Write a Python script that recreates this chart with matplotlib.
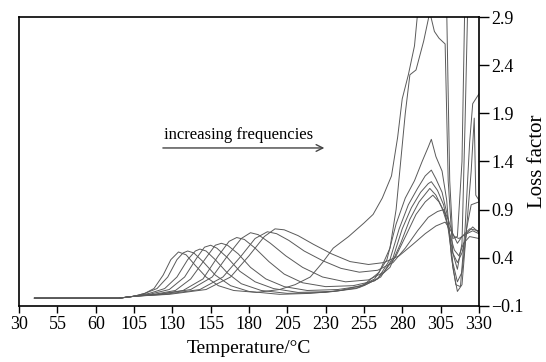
import numpy as np
import matplotlib.pyplot as plt

plt.rcParams['font.family'] = ['Liberation Serif', 'DejaVu Serif']

# temperature (°C) / loss factor pairs, one list per frequency
curve_1 = [(40, -0.02), (95, -0.02), (105, 0.0), (112, 0.03), (118, 0.08), (124, 0.22), (129, 0.38),
           (134, 0.46), (139, 0.43), (145, 0.32), (152, 0.2), (160, 0.11), (170, 0.06), (185, 0.04),
           (200, 0.07), (210, 0.12), (220, 0.2), (228, 0.35), (235, 0.5), (245, 0.62), (255, 0.76),
           (261, 0.85), (267, 1.02), (273, 1.25), (277, 1.65), (280, 2.05), (284, 2.3), (288, 2.6),
           (291, 3.1), (306, 3.2), (309, 3.0), (311, 1.2), (313, 0.6), (316, 0.62), (319, 1.4),
           (321, 3.2), (330, 3.2)]
curve_2 = [(40, -0.02), (95, -0.02), (105, 0.0), (112, 0.03), (120, 0.08), (127, 0.2), (133, 0.38),
           (137, 0.45), (140, 0.47), (144, 0.45), (150, 0.36), (158, 0.22), (168, 0.11), (180, 0.05),
           (200, 0.02), (220, 0.03), (240, 0.06), (255, 0.12), (265, 0.25), (272, 0.5), (276, 0.9),
           (279, 1.4), (282, 1.9), (285, 2.3), (289, 2.35), (294, 2.65), (298, 2.95), (301, 2.75),
           (304, 2.68), (308, 2.62), (310, 1.2), (313, 0.45), (316, 0.28), (319, 0.55), (321, 1.8),
           (323, 3.2), (330, 3.2)]
curve_3 = [(40, -0.02), (95, -0.02), (105, 0.0), (115, 0.03), (125, 0.08), (133, 0.2), (140, 0.38),
           (145, 0.47), (148, 0.49), (152, 0.47), (158, 0.38), (166, 0.24), (175, 0.13), (188, 0.06),
           (205, 0.03), (230, 0.04), (250, 0.08), (262, 0.18), (270, 0.38), (276, 0.75), (282, 1.02),
           (288, 1.2), (293, 1.4), (297, 1.55), (299, 1.63), (302, 1.45), (306, 1.3), (309, 1.0),
           (312, 0.42), (315, 0.12), (318, 0.1), (321, 0.7), (324, 1.6), (326, 2.0), (330, 2.1)]
curve_4 = [(40, -0.02), (95, -0.02), (105, 0.0), (115, 0.02), (128, 0.07), (138, 0.2), (146, 0.4),
           (151, 0.51), (155, 0.53), (159, 0.5), (166, 0.4), (174, 0.26), (184, 0.15), (196, 0.08),
           (212, 0.04), (235, 0.05), (252, 0.09), (264, 0.18), (272, 0.38), (278, 0.7), (284, 0.95),
           (290, 1.12), (295, 1.25), (299, 1.31), (302, 1.22), (306, 1.08), (310, 0.8), (313, 0.3),
           (316, 0.05), (319, 0.12), (322, 0.7), (325, 1.3), (327, 1.85), (328, 1.05), (330, 1.0)]
curve_5 = [(40, -0.02), (95, -0.02), (105, 0.0), (118, 0.02), (132, 0.06), (142, 0.18), (152, 0.4),
           (158, 0.53), (162, 0.55), (166, 0.53), (173, 0.44), (181, 0.3), (191, 0.18), (203, 0.1),
           (218, 0.06), (238, 0.07), (255, 0.11), (266, 0.2), (274, 0.4), (280, 0.7), (286, 0.92),
           (292, 1.08), (297, 1.17), (299, 1.19), (303, 1.1), (307, 0.95), (310, 0.7), (313, 0.35),
           (316, 0.15), (319, 0.25), (322, 0.7), (325, 0.95), (330, 0.98)]
curve_6 = [(40, -0.02), (95, -0.02), (105, 0.0), (120, 0.02), (137, 0.06), (150, 0.18), (160, 0.42),
           (167, 0.57), (172, 0.61), (177, 0.59), (184, 0.5), (193, 0.36), (203, 0.23), (215, 0.14),
           (230, 0.1), (248, 0.11), (262, 0.16), (272, 0.3), (279, 0.55), (285, 0.8), (291, 0.98),
           (296, 1.08), (298, 1.12), (302, 1.05), (306, 0.92), (310, 0.72), (313, 0.45), (316, 0.35),
           (319, 0.45), (322, 0.65), (326, 0.72), (330, 0.66)]
curve_7 = [(40, -0.02), (95, -0.02), (105, 0.0), (122, 0.02), (142, 0.07), (156, 0.2), (166, 0.42),
           (175, 0.6), (181, 0.66), (186, 0.64), (194, 0.55), (204, 0.42), (215, 0.3), (228, 0.2),
           (243, 0.15), (258, 0.17), (268, 0.25), (276, 0.42), (283, 0.65), (289, 0.85), (295, 0.98),
           (300, 1.05), (304, 0.98), (308, 0.85), (311, 0.65), (314, 0.48), (317, 0.42), (320, 0.55),
           (324, 0.62), (330, 0.6)]
curve_8 = [(40, -0.02), (95, -0.02), (105, 0.0), (125, 0.02), (148, 0.07), (163, 0.2), (175, 0.42),
           (184, 0.6), (192, 0.67), (198, 0.65), (206, 0.58), (216, 0.47), (228, 0.37), (240, 0.29),
           (252, 0.25), (264, 0.27), (274, 0.35), (282, 0.5), (290, 0.68), (297, 0.82), (303, 0.88),
           (307, 0.9), (310, 0.8), (313, 0.65), (316, 0.55), (319, 0.62), (324, 0.7), (330, 0.68)]
curve_9 = [(40, -0.02), (95, -0.02), (105, 0.0), (128, 0.02), (152, 0.07), (168, 0.2), (180, 0.42),
           (190, 0.62), (197, 0.7), (203, 0.69), (212, 0.63), (222, 0.54), (234, 0.44), (246, 0.36),
           (258, 0.33), (268, 0.35), (278, 0.42), (287, 0.54), (295, 0.65), (302, 0.73), (308, 0.77),
           (311, 0.7), (314, 0.62), (317, 0.6), (321, 0.64), (326, 0.68), (330, 0.65)]
curves = [curve_1, curve_2, curve_3, curve_4, curve_5, curve_6, curve_7, curve_8, curve_9]

x_ticks = [30, 55, 80, 105, 130, 155, 180, 205, 230, 255, 280, 305, 330]
x_labels = ['30', '55', '60', '105', '130', '155', '180', '205', '230', '255', '280', '305', '330']
y_ticks = [-0.1, 0.4, 0.9, 1.4, 1.9, 2.4, 2.9]

fig = plt.figure(figsize=(5.46, 3.62), dpi=100)
ax = fig.add_axes([0.035, 0.155, 0.842, 0.798])

for c in curves:
    t, v = zip(*c)
    ax.plot(t, v, color='#5a5a5a', lw=0.7)

ax.set_xlim(30, 330)
ax.set_ylim(-0.1, 2.9)
ax.set_xticks(x_ticks)
ax.set_xticklabels(x_labels)
ax.set_yticks(y_ticks)
ax.yaxis.tick_right()
ax.yaxis.set_label_position('right')
ax.tick_params(axis='x', direction='out', length=5, width=1, labelsize=13, pad=2)
ax.tick_params(axis='y', direction='out', length=7, width=1, labelsize=13, pad=2)
for s in ax.spines.values():
    s.set_linewidth(1.2)

ax.set_xlabel('Temperature/°C', fontsize=14, labelpad=5)
ax.set_ylabel('Loss factor', fontsize=15, labelpad=3)

ax.annotate('', xy=(231, 1.54), xytext=(122, 1.54),
            arrowprops=dict(arrowstyle='->', color='#444444', lw=1, mutation_scale=12))
ax.text(173, 1.59, 'increasing frequencies', ha='center', va='bottom', fontsize=12)

fig.savefig('out.png', dpi=100)
